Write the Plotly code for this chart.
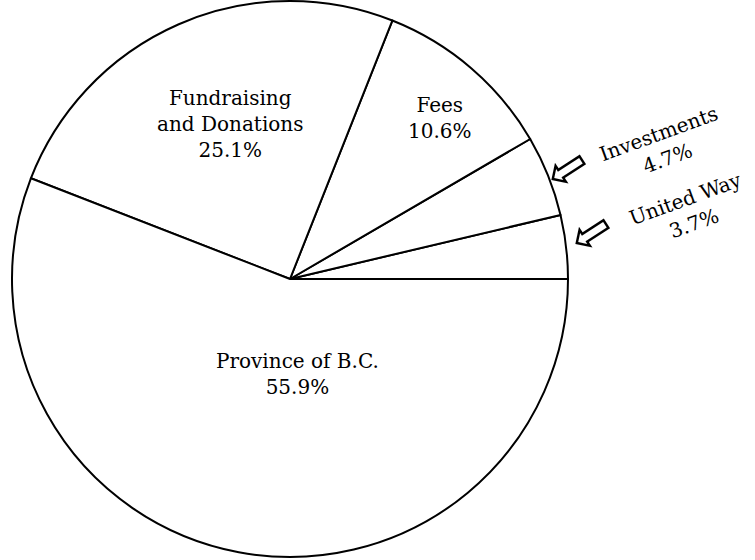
import plotly.graph_objects as go

categories = ["United Way", "Investments", "Fees", "Fundraising and Donations", "Province of B.C."]
display_labels = ["United Way", "Investments", "Fees", "Fundraising<br>and Donations", "Province of B.C."]
values = [3.7, 4.7, 10.6, 25.1, 55.9]

W, H = 755, 560
# pie circle: centre and diameter in px
cx, cy, d = 290, 279, 556

total = sum(values)
fig = go.Figure(go.Pie(
    labels=categories,
    values=values,
    sort=False,
    direction="counterclockwise",
    rotation=90 - values[0] / total * 360,
    textinfo="none",
    marker=dict(colors=["white"] * len(values), line=dict(color="black", width=2)),
    domain=dict(x=[(cx - d / 2) / W, (cx + d / 2) / W],
                y=[max(0, 1 - (cy + d / 2) / H), min(1, 1 - (cy - d / 2) / H)]),
    showlegend=False,
))

font = dict(family="DejaVu Serif", size=20, color="black")

def px(x, y):
    return dict(x=x / W, y=1 - y / H, xref="paper", yref="paper",
                xanchor="center", yanchor="middle")

# label positions (pixels) for each category
label_pos = {
    "Fees": (440, 118, 0),
    "Fundraising and Donations": (230, 124, 0),
    "Province of B.C.": (297, 374, 0),
    "Investments": (663, 146, -20),
    "United Way": (690, 211, -20),
}
for cat, lab, v in zip(categories, display_labels, values):
    x, y, ang = label_pos[cat]
    fig.add_annotation(text=f"{lab}<br>{v:.1f}%", showarrow=False, font=font,
                       textangle=ang, align="center", **px(x, y))

# hollow arrows pointing to small slices
arrow_font = dict(family="DejaVu Sans", size=50, color="black")
for x, y in [(567, 168), (591, 232)]:
    fig.add_annotation(text="\u21e6", showarrow=False, font=arrow_font,
                       textangle=-33, **px(x, y))

fig.update_layout(width=W, height=H, margin=dict(l=0, r=0, t=0, b=0),
                  paper_bgcolor="white", plot_bgcolor="white")
fig.write_html("out.html", config={"displayModeBar": False},
               post_script="document.body.style.margin='0';")
